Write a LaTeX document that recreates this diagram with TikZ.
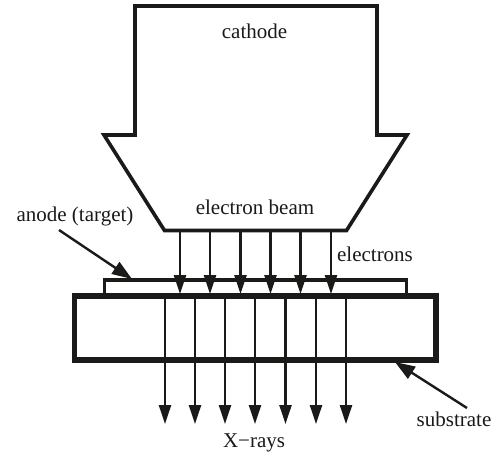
\documentclass[tikz,border=0pt]{standalone}
\usepackage{fontspec}
\setmainfont{Liberation Serif}
\definecolor{ink}{RGB}{26, 26, 24}
\usetikzlibrary{arrows.meta}
\tikzset{
  label/.style={inner sep=0pt, text=ink, font=\fontsize{21pt}{24pt}\selectfont},
  ray/.style={line width=2.4pt, color=ink, -{Triangle[length=19pt, width=12pt]}, shorten >=-1pt},
  pointer/.style={line width=2.4pt, color=ink, -{Triangle[length=20pt, width=14pt]}},
}

\begin{document}
\begin{tikzpicture}
\useasboundingbox (0pt, 0pt) rectangle (500pt, -456pt);
\fill [white] (0pt, 0pt) rectangle (500pt, -456pt);
\draw [line width=3.6pt, color=ink, line join=miter] (135pt, -6pt) -- (377pt, -6pt) -- (377pt, -135pt) -- (407pt, -135pt) -- (346.5pt, -230.5pt) -- (164.5pt, -230.5pt) -- (104pt, -135pt) -- (135pt, -135pt) -- cycle;
\draw [line width=3.6pt, color=ink] (104.5pt, -294pt) -- (104.5pt, -280pt) -- (406.5pt, -280pt) -- (406.5pt, -294pt);
\draw [line width=5.5pt, color=ink] (74.5pt, -296pt) rectangle (436pt, -360pt);
\node (cathode) [label] at (254.5pt, -31pt) {cathode};
\node (beam) [label] at (255pt, -207pt) {electron beam};
\node (electrons) [label] at (375pt, -254pt) {electrons};
\node (anode) [label] at (75pt, -216pt) {anode (target)};
\node (substrate) [label] at (454pt, -419pt) {substrate};
\node (xrays) [label] at (254pt, -443pt) {X−rays};
\coordinate (e1) at (180pt, -231pt);
\coordinate (e2) at (210pt, -231pt);
\coordinate (e3) at (240.5pt, -231pt);
\coordinate (e4) at (270.5pt, -231pt);
\coordinate (e5) at (300.5pt, -231pt);
\coordinate (e6) at (331pt, -231pt);
\coordinate (t1) at (180pt, -293pt);
\coordinate (t2) at (210pt, -293pt);
\coordinate (t3) at (240.5pt, -293pt);
\coordinate (t4) at (270.5pt, -293pt);
\coordinate (t5) at (300.5pt, -293pt);
\coordinate (t6) at (331pt, -293pt);
\draw [ray] (e1) to (t1);
\draw [ray] (e2) to (t2);
\draw [ray] (e3) to (t3);
\draw [ray] (e4) to (t4);
\draw [ray] (e5) to (t5);
\draw [ray] (e6) to (t6);
\coordinate (x1) at (165pt, -297pt);
\coordinate (x2) at (195pt, -297pt);
\coordinate (x3) at (225pt, -297pt);
\coordinate (x4) at (255pt, -297pt);
\coordinate (x5) at (285.5pt, -297pt);
\coordinate (x6) at (316pt, -297pt);
\coordinate (x7) at (346pt, -297pt);
\coordinate (y1) at (165pt, -423pt);
\coordinate (y2) at (195pt, -423pt);
\coordinate (y3) at (225pt, -423pt);
\coordinate (y4) at (255pt, -423pt);
\coordinate (y5) at (285.5pt, -423pt);
\coordinate (y6) at (316pt, -423pt);
\coordinate (y7) at (346pt, -423pt);
\draw [ray] (x1) to (y1);
\draw [ray] (x2) to (y2);
\draw [ray] (x3) to (y3);
\draw [ray] (x4) to (y4);
\draw [ray] (x5) to (y5);
\draw [ray] (x6) to (y6);
\draw [ray] (x7) to (y7);
\coordinate (a1) at (59pt, -230pt);
\coordinate (a2) at (132pt, -279pt);
\coordinate (s1) at (467pt, -408pt);
\coordinate (s2) at (395pt, -362pt);
\draw [pointer] (a1) to (a2);
\draw [pointer] (s1) to (s2);
\end{tikzpicture}
\end{document}
